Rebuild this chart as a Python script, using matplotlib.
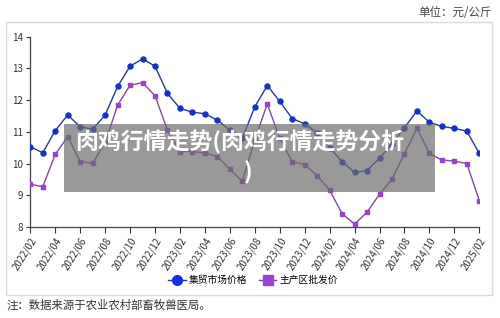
import pandas as pd
import matplotlib
matplotlib.use("Agg")
import matplotlib.pyplot as plt
from matplotlib.patches import Rectangle
from matplotlib.lines import Line2D

plt.rcParams['font.family'] = ['Noto Sans CJK SC', 'DejaVu Sans']

# 月份 2022/02 - 2025/02
months = pd.date_range("2022-02-01", periods=37, freq="MS").strftime("%Y/%m").tolist()

# 集贸市场价格 (元/公斤)
market_price = [10.53, 10.34, 11.04, 11.53, 11.16, 11.08, 11.53, 12.43, 13.07, 13.30,
                13.07, 12.21, 11.74, 11.62, 11.57, 11.37, 11.05, 10.80, 11.79, 12.46,
                11.96, 11.42, 11.25, 10.97, 10.50, 10.06, 9.72, 9.78, 10.17, 10.62,
                11.13, 11.66, 11.30, 11.17, 11.11, 11.02, 10.32]

# 主产区批发价 (元/公斤)
wholesale_price = [9.35, 9.27, 10.29, 10.85, 10.06, 10.01, 10.66, 11.84, 12.47, 12.55,
                   12.14, 11.05, 10.38, 10.38, 10.33, 10.22, 9.82, 9.44, 10.75, 11.88,
                   10.80, 10.06, 9.97, 9.62, 9.16, 8.42, 8.09, 8.47, 9.03, 9.51,
                   10.31, 11.11, 10.32, 10.11, 10.08, 10.00, 8.83]

series_names = ["集贸市场价格", "主产区批发价"]

fig = plt.figure(figsize=(5.0, 3.18), dpi=100)
fig.patch.set_facecolor("white")

# 外框
fig.add_artist(Rectangle((0.0114, 0.0723), 0.972, 0.8594, transform=fig.transFigure,
                         fill=False, edgecolor="#dadada", linewidth=1.0))

ax = fig.add_axes([0.0606, 0.2862, 0.898, 0.5984])
x = list(range(len(months)))

ax.plot(x, market_price, color="#26389a", linewidth=1.0, marker="o", markersize=3.6,
        markerfacecolor="#1530c8", markeredgecolor="#1530c8", zorder=3)
ax.plot(x, wholesale_price, color="#7e4a9e", linewidth=1.0, marker="s", markersize=3.4,
        markerfacecolor="#9a40d2", markeredgecolor="#9a40d2", zorder=3)

ax.set_xlim(0, len(months) - 1)
ax.set_ylim(8, 14)
ax.set_yticks(range(8, 15))
ax.set_xticks(x[::2])
ax.set_xticklabels(months[::2], rotation=58, ha="right", va="top",
                   rotation_mode="anchor", fontsize=7, color="#333333")
ax.tick_params(axis="y", labelsize=7, colors="#333333", length=3, width=0.8, pad=2)
ax.tick_params(axis="x", length=4, width=0.8, pad=2, colors="#333333")
for s in ["top", "right"]:
    ax.spines[s].set_visible(False)
for s in ["left", "bottom"]:
    ax.spines[s].set_color("#444444")
    ax.spines[s].set_linewidth(0.9)
ax.set_facecolor("white")

# 图例
handles = [
    Line2D([], [], color="#26389a", linewidth=1.0, marker="o", markersize=7,
           markerfacecolor="#1a2fe0", markeredgecolor="#1a2fe0"),
    Line2D([], [], color="#7e4a9e", linewidth=1.0, marker="s", markersize=6.5,
           markerfacecolor="#9a40d2", markeredgecolor="#9a40d2"),
]
fig.legend(handles, series_names, loc="center", bbox_to_anchor=(0.506, 1 - 280 / 318),
           ncol=2, frameon=False, fontsize=7, handlelength=1.8, handletextpad=0.3,
           columnspacing=1.2)

# 单位与注释
fig.text(0.984, 1 - 13 / 318, "单位：元/公斤", ha="right", va="center",
         fontsize=8.3, color="#444444")
fig.text(0.014, 1 - 305 / 318, "注：数据来源于农业农村部畜牧兽医局。", ha="left", va="center",
         fontsize=8.2, color="#333333")

# 标题遮罩
fig.add_artist(Rectangle((64 / 500, 1 - 192.3 / 318), 371 / 500, 68 / 318,
                         transform=fig.transFigure, facecolor="#6e6e6e", alpha=0.7,
                         edgecolor="none", zorder=5))
fig.text(240 / 500, 1 - 142 / 318, "肉鸡行情走势(肉鸡行情走势分析", ha="center", va="center",
         fontsize=16.5, fontweight="bold", color="white", zorder=6)
fig.text(248 / 500, 1 - 173 / 318, ")", ha="center", va="center",
         fontsize=16.5, fontweight="bold", color="white", zorder=6)

fig.savefig("out.png", dpi=100, facecolor="white")
